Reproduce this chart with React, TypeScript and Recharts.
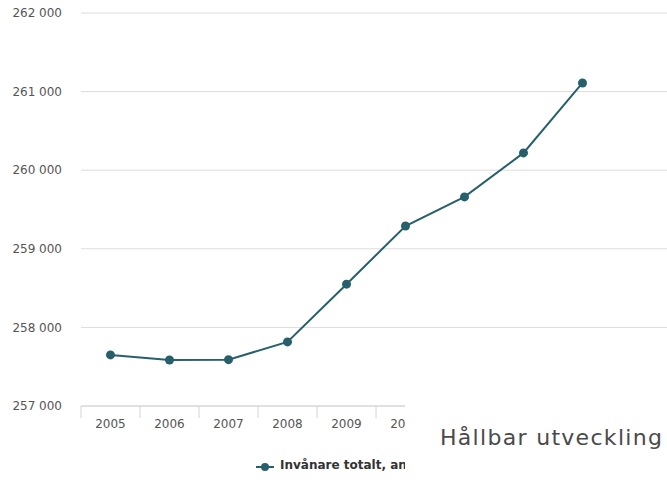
import { CartesianGrid, Legend, Line, LineChart, XAxis, YAxis } from "recharts";

const years = ["2005", "2006", "2007", "2008", "2009", "2010", "2011", "2012", "2013", "2014"];
const residents = [257650, 257585, 257590, 257815, 258550, 259290, 259660, 260220, 261110, null];
const yTicks = [257000, 258000, 259000, 260000, 261000, 262000];
const seriesName = "Invånare totalt, antal";

const data = years.map((year, i) => ({ year, value: residents[i] }));

const TEAL = "#27606a";
const FONT = "'DejaVu Sans', Verdana, sans-serif";
const CHART_W = 671;
const Y_AXIS_W = 81;
const HALF_BAND = (CHART_W - Y_AXIS_W) / years.length / 2;

const fmt = (v: number) => String(v).replace(/\B(?=(\d{3})+(?!\d))/g, " ");

function YearTick(props: any) {
  const { x, y, payload, index } = props;
  const last = index === years.length - 1;
  return (
    <g>
      <line x1={x - HALF_BAND} y1={y} x2={x - HALF_BAND} y2={y + 12} stroke="#d4d4d4" />
      {last && <line x1={x + HALF_BAND} y1={y} x2={x + HALF_BAND} y2={y + 12} stroke="#d4d4d4" />}
      <text x={x} y={y + 22} textAnchor="middle" fill="#555" fontSize={12} fontFamily={FONT}>
        {payload.value}
      </text>
    </g>
  );
}

function LegendContent() {
  return (
    <div style={{ height: 30, position: "relative", fontFamily: FONT, fontSize: 12, fontWeight: "bold", color: "#333" }}>
      <svg width={18} height={10} style={{ position: "absolute", left: 256, top: 6 }}>
        <line x1={0} y1={5} x2={18} y2={5} stroke={TEAL} strokeWidth={2} />
        <circle cx={9} cy={5} r={4} fill={TEAL} />
      </svg>
      <span style={{ position: "absolute", left: 280, top: 2, whiteSpace: "nowrap" }}>{seriesName}</span>
    </div>
  );
}

export default function App() {
  return (
    <div style={{ position: "absolute", left: 0, top: 0, width: 667, height: 486, overflow: "hidden", background: "#fff" }}>
      <LineChart width={CHART_W} height={486} data={data} margin={{ top: 13, right: 0, left: 0, bottom: 0 }}>
        <CartesianGrid vertical={false} stroke="#dcdcdc" />
        <XAxis
          dataKey="year"
          height={50}
          padding={{ left: HALF_BAND, right: HALF_BAND }}
          tickSize={0}
          tickMargin={0}
          tickLine={false}
          axisLine={{ stroke: "#d4d4d4" }}
          tick={<YearTick />}
          interval={0}
        />
        <YAxis
          width={Y_AXIS_W}
          domain={[257000, 262000]}
          ticks={yTicks}
          tickFormatter={fmt}
          axisLine={false}
          tickLine={false}
          tickSize={0}
          tickMargin={19}
          tick={{ fill: "#555", fontSize: 12, fontFamily: FONT }}
        />
        <Legend verticalAlign="bottom" content={<LegendContent />} />
        <Line
          type="linear"
          dataKey="value"
          name={seriesName}
          stroke={TEAL}
          strokeWidth={2}
          dot={{ r: 4.5, fill: TEAL, stroke: TEAL, strokeWidth: 0 }}
          isAnimationActive={false}
        />
      </LineChart>
      <div
        style={{
          position: "absolute",
          left: 405,
          top: 405,
          width: 262,
          height: 81,
          background: "#fff",
        }}
      >
        <div
          style={{
            position: "absolute",
            left: 35,
            top: 20,
            fontFamily: FONT,
            fontSize: 22,
            letterSpacing: 1.3,
            color: "#4a4a4a",
            whiteSpace: "nowrap",
          }}
        >
          Hållbar utveckling
        </div>
      </div>
    </div>
  );
}
